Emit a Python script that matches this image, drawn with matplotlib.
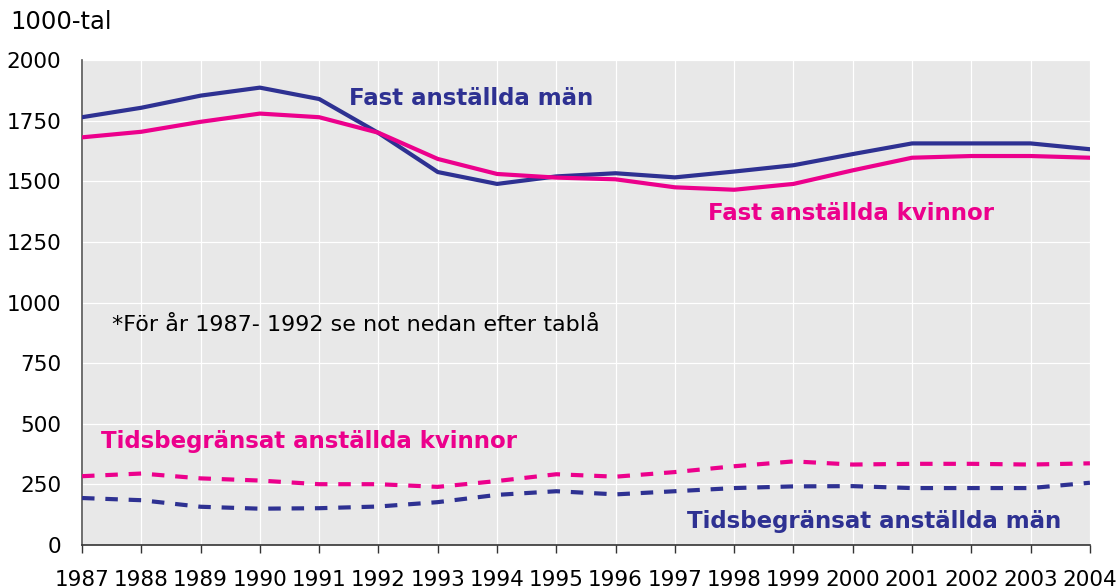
import matplotlib
matplotlib.use("Agg")
import matplotlib.pyplot as plt

years = list(range(1987, 2005))
fast_man = [1764, 1803, 1853, 1886, 1839, 1699, 1538, 1489, 1520, 1533, 1516, 1540, 1566, 1612, 1656, 1656, 1656, 1632]
fast_kvinnor = [1681, 1704, 1745, 1779, 1764, 1700, 1592, 1530, 1515, 1508, 1475, 1465, 1489, 1545, 1597, 1604, 1604, 1597]
tids_kvinnor = [284, 295, 275, 266, 251, 251, 240, 264, 292, 282, 301, 325, 345, 332, 335, 335, 332, 337]
tids_man = [194, 185, 158, 150, 152, 159, 177, 207, 222, 209, 222, 235, 242, 243, 235, 235, 235, 257]
yticks = [0, 250, 500, 750, 1000, 1250, 1500, 1750, 2000]

navy = "#2E3192"
pink = "#EC008C"

fig = plt.figure(figsize=(11.19, 5.88), dpi=100)
ax = fig.add_axes([0.0733, 0.073, 0.9007, 0.825])
ax.set_facecolor("#E8E8E8")

ax.plot(years, fast_man, color=navy, lw=3, solid_capstyle="round", zorder=3)
ax.plot(years, fast_kvinnor, color=pink, lw=3, solid_capstyle="round", zorder=3)
ax.plot(years, tids_kvinnor, color=pink, lw=3, linestyle=(0, (3, 2.6)), zorder=3)
ax.plot(years, tids_man, color=navy, lw=3, linestyle=(0, (3, 2.6)), zorder=3)

ax.set_xlim(1987, 2004)
ax.set_ylim(0, 2000)
ax.set_xticks(years)
ax.set_xticklabels([str(y) for y in years])
ax.set_yticks(yticks)
ax.grid(True, color="white", lw=0.9, zorder=0)
ax.set_axisbelow(True)

for s in ["top", "right"]:
    ax.spines[s].set_visible(False)
ax.spines["left"].set_color("#555555")
ax.spines["bottom"].set_color("#333333")
ax.spines["left"].set_linewidth(1.2)
ax.spines["bottom"].set_linewidth(1.2)
ax.tick_params(axis="x", direction="out", length=6, width=1, colors="#333333",
               labelsize=15.5, labelcolor="black", pad=12)
ax.tick_params(axis="y", length=0, labelsize=15.5, labelcolor="black", pad=15)

fig.text(10 / 1119, 1 - 22 / 588, "1000-tal", fontsize=17.5, va="center", ha="left")

ax.text(1991.5, 1843, "Fast anställda män", color=navy, fontsize=16.5, fontweight="bold",
        va="center", ha="left")
ax.text(1997.56, 1365, "Fast anställda kvinnor", color=pink, fontsize=16.5, fontweight="bold",
        va="center", ha="left")
ax.text(1987.32, 429, "Tidsbegränsat anställda kvinnor", color=pink, fontsize=16.5, fontweight="bold",
        va="center", ha="left")
ax.text(1997.2, 99, "Tidsbegränsat anställda män", color=navy, fontsize=16.5, fontweight="bold",
        va="center", ha="left")
ax.text(1987.5, 907, "*För år 1987- 1992 se not nedan efter tablå", color="black", fontsize=16,
        va="center", ha="left")

fig.savefig("out.png", dpi=100)
